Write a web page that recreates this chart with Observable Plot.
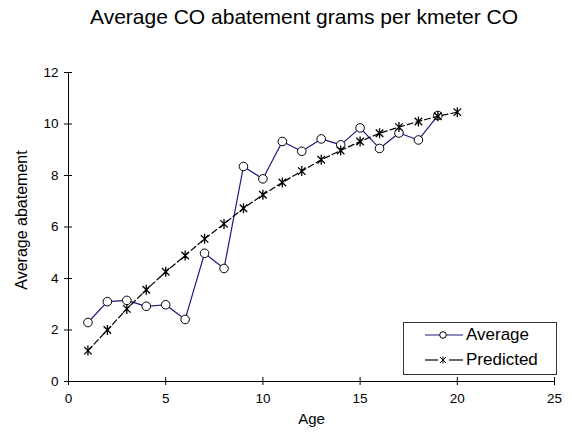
<!DOCTYPE html>
<html>
<head>
<meta charset="utf-8">
<script src="https://cdn.jsdelivr.net/npm/d3@7"></script>
<script src="https://cdn.jsdelivr.net/npm/@observablehq/plot@0.6"></script>
<style>
  body { margin: 0; background: #fff; font-family: "Liberation Sans", Arial, sans-serif; }
  #wrap { position: relative; width: 572px; height: 437px; }
  #title { position: absolute; left: 0; width: 608px; top: 5px; text-align: center; font-size: 21px; color: #000; white-space: nowrap; }
  #legend { position: absolute; left: 403px; top: 322px; width: 152px; height: 51px; border: 1px solid #333; background: #fff; box-sizing: content-box; }
  #legend .row { position: absolute; left: 0; height: 24px; font-size: 17px; line-height: 24px; color:#000; }
  #legend svg { position: absolute; left: 19px; top: 0; }
  #legend span { position: absolute; left: 62px; white-space: nowrap; }
</style>
</head>
<body>
<div id="wrap">
  <div id="title">Average CO abatement grams per kmeter CO</div>
  <div id="chart"></div>
  <div id="legend">
    <div class="row" style="top:0px">
      <svg width="42" height="24"><line x1="2" x2="40" y1="12" y2="12" stroke="#1a1a80" stroke-width="1.2"/><circle cx="20" cy="12" r="3.3" fill="#fff" stroke="#000"/></svg>
      <span>Average</span>
    </div>
    <div class="row" style="top:25px">
      <svg width="42" height="24"><line x1="2" x2="15" y1="12" y2="12" stroke="#000" stroke-width="1.2"/><line x1="26" x2="40" y1="12" y2="12" stroke="#000" stroke-width="1.2"/><path d="M17,9L23,15M17,15L23,9M20,8.5L20,15.5" stroke="#000" fill="none"/></svg>
      <span>Predicted</span>
    </div>
  </div>
</div>
<script>
const ages = [1,2,3,4,5,6,7,8,9,10,11,12,13,14,15,16,17,18,19,20];
const averageAges = [1,2,3,4,5,6,7,8,9,10,11,12,13,14,15,16,17,18,19];
const averageValues = [2.29,3.1,3.15,2.92,2.98,2.41,4.98,4.39,8.35,7.87,9.32,8.94,9.42,9.19,9.85,9.05,9.65,9.38,10.33];
const predictedValues = [1.2,2.0,2.82,3.56,4.26,4.89,5.54,6.12,6.73,7.25,7.73,8.17,8.61,8.97,9.32,9.64,9.88,10.1,10.3,10.46];
const xTicks = [0,5,10,15,20,25];
const yTicks = [0,2,4,6,8,10,12];

const average = averageAges.map((a, i) => ({age: a, value: averageValues[i]}));
const predicted = ages.map((a, i) => ({age: a, value: predictedValues[i]}));

const starSymbol = {
  draw(context, size) {
    const r = Math.sqrt(size / Math.PI);
    const d = r * 0.75;
    context.moveTo(-d, -d); context.lineTo(d, d);
    context.moveTo(-d, d); context.lineTo(d, -d);
    context.moveTo(0, -r); context.lineTo(0, r);
  }
};

const chart = Plot.plot({
  width: 572,
  height: 437,
  marginLeft: 68,
  marginRight: 18,
  marginTop: 72,
  marginBottom: 56,
  style: {fontFamily: "Liberation Sans, Arial, sans-serif", fontSize: "13.5px", color: "#000", background: "transparent"},
  x: {domain: [0, 25]},
  y: {domain: [0, 12]},
  marks: [
    Plot.ruleY([0], {stroke: "#000"}),
    Plot.ruleX([0], {stroke: "#000"}),
    Plot.axisX({ticks: xTicks, tickSize: 8, dy: -4, text: null, label: null, stroke: "#000"}),
    Plot.axisX({ticks: xTicks, tickSize: 0, tickPadding: 12, fontSize: 13.5, label: null}),
    Plot.axisY({ticks: yTicks, tickSize: 8, dx: 4, text: null, label: null, stroke: "#000"}),
    Plot.axisY({ticks: yTicks, tickSize: 0, tickPadding: 10, fontSize: 13.5, label: null}),
    Plot.text(["Age"], {frameAnchor: "bottom", dy: 42, fontSize: 15, fill: "#000"}),
    Plot.text(["Average abatement"], {frameAnchor: "left", dx: -47, dy: -7, rotate: -90, textAnchor: "middle", fontSize: 16, fill: "#000"}),
    Plot.line(average, {x: "age", y: "value", stroke: "#1a1a80", strokeWidth: 1.2}),
    Plot.dot(average, {x: "age", y: "value", r: 4.3, fill: "#fff", stroke: "#000", strokeWidth: 1}),
    Plot.line(predicted, {x: "age", y: "value", stroke: "#000", strokeWidth: 1.2, strokeDasharray: "6,3"}),
    Plot.dot(predicted, {x: "age", y: "value", r: 5, symbol: starSymbol, stroke: "#000", strokeWidth: 1.3, fill: "none"})
  ]
});
document.getElementById("chart").appendChild(chart);
</script>
</body>
</html>
